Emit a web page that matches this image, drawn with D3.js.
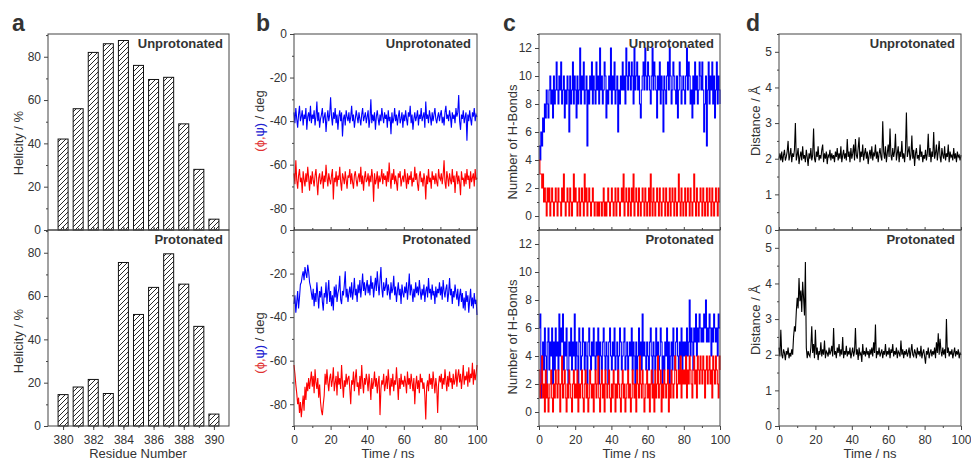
<!DOCTYPE html>
<html>
<head>
<meta charset="utf-8">
<script src="https://cdn.jsdelivr.net/npm/d3@7"></script>
<style>
  body { margin: 0; background: #fff; }
  text { font-family: "Liberation Sans", Arial, sans-serif; fill: #333; }
</style>
</head>
<body>
<svg id="chart" width="971" height="460"></svg>
<script>
// ---- data ----
const residues = [380, 381, 382, 383, 384, 385, 386, 387, 388, 389, 390];
const helixUnp = [42, 56, 82, 86, 87.5, 76, 69.5, 70.5, 49, 28, 5];
const helixPro = [14.5, 18, 21.5, 15, 75.5, 51.5, 64, 79.5, 65.5, 46, 5.5];

// time series: samples evenly spaced over 0..100 ns
const psiUnp = [
  -36,-41,-34,-39,-43,-37,-33,-40,-38,-35,-42,-37,-39,-34,-44,-38,-36,-40,-33,-41,
  -37,-39,-35,-42,-38,-31,-40,-36,-43,-39,-37,-34,-41,-38,-36,-45,-39,-35,-40,-37,
  -29,-38,-42,-36,-39,-34,-41,-37,-44,-38,-35,-40,-36,-47,-39,-37,-42,-35,-38,-40,
  -36,-41,-38,-33,-40,-37,-43,-39,-35,-38,-41,-36,-39,-42,-37,-34,-40,-38,-36,-41,
  -38,-35,-43,-39,-30,-41,-37,-40,-36,-44,-38,-35,-39,-42,-37,-40,-34,-38,-41,-36,
  -39,-37,-43,-35,-40,-38,-46,-36,-41,-39,-34,-40,-37,-42,-38,-35,-41,-39,-36,-43,
  -37,-40,-35,-39,-42,-36,-38,-33,-41,-37,-44,-39,-36,-40,-38,-35,-42,-37,-39,-34,
  -40,-38,-36,-43,-31,-39,-37,-41,-35,-38,-42,-36,-40,-37,-34,-39,-41,-38,-36,-40,
  -37,-35,-41,-38,-42,-36,-33,-39,-37,-40,-35,-38,-43,-36,-39,-37,-41,-34,-38,-36,
  -28,-40,-44,-37,-39,-35,-41,-38,-36,-49,-37,-40,-35,-39,-42,-36,-38,-34,-40,-37,-38];
const phiUnp = [
  -64,-69,-58,-67,-71,-65,-62,-68,-66,-73,-63,-67,-70,-64,-68,-61,-66,-72,-65,-69,
  -63,-67,-70,-65,-62,-68,-74,-66,-64,-69,-67,-63,-71,-65,-68,-60,-66,-70,-64,-67,
  -69,-65,-62,-76,-66,-68,-63,-70,-65,-67,-61,-68,-72,-64,-66,-69,-63,-67,-71,-65,
  -66,-62,-69,-64,-68,-71,-65,-63,-67,-70,-66,-64,-68,-61,-69,-65,-72,-66,-63,-68,
  -67,-64,-70,-65,-68,-62,-66,-77,-64,-69,-67,-63,-71,-65,-68,-66,-62,-69,-64,-67,
  -65,-70,-63,-68,-59,-66,-71,-64,-67,-62,-69,-65,-68,-72,-64,-66,-63,-70,-67,-65,
  -68,-62,-66,-71,-64,-69,-65,-67,-63,-70,-66,-68,-61,-67,-64,-69,-72,-65,-63,-68,
  -66,-70,-64,-67,-76,-65,-69,-62,-68,-66,-71,-63,-67,-65,-69,-64,-68,-70,-62,-66,
  -67,-64,-69,-65,-58,-68,-71,-63,-66,-70,-64,-67,-69,-62,-68,-65,-73,-66,-63,-69,
  -65,-68,-74,-63,-67,-66,-70,-64,-69,-62,-67,-65,-71,-63,-68,-66,-64,-70,-62,-67,-66];
const psiPro = [
  -34,-30,-38,-33,-28,-36,-31,-25,-24,-21,-19,-23,-17,-20,-22,-16,-19,-24,-26,-29,
  -32,-27,-35,-29,-33,-24,-30,-36,-28,-31,-26,-33,-37,-29,-31,-24,-34,-28,-23,-33,
  -28,-35,-30,-37,-26,-31,-25,-33,-29,-27,-21,-32,-34,-28,-30,-25,-19,-31,-27,-33,
  -29,-26,-31,-24,-32,-28,-22,-30,-27,-33,-25,-29,-23,-31,-26,-20,-28,-24,-30,-26,
  -23,-29,-25,-30,-21,-27,-24,-31,-26,-22,-28,-19,-25,-30,-23,-17,-27,-31,-24,-28,
  -26,-22,-30,-25,-28,-32,-24,-29,-27,-21,-30,-26,-33,-28,-24,-30,-27,-34,-25,-29,
  -31,-26,-29,-24,-32,-27,-20,-30,-25,-28,-33,-27,-31,-24,-29,-26,-30,-23,-28,-32,
  -27,-30,-25,-33,-28,-26,-31,-22,-29,-27,-32,-25,-30,-28,-34,-26,-31,-27,-29,-24,
  -30,-26,-32,-23,-28,-31,-27,-25,-33,-29,-22,-30,-27,-34,-28,-31,-25,-29,-32,-27,
  -35,-30,-27,-33,-29,-36,-31,-37,-28,-33,-30,-38,-32,-27,-35,-31,-36,-29,-34,-32,-39];
const phiPro = [
  -62,-66,-71,-75,-80,-77,-84,-79,-86,-81,-76,-83,-72,-78,-70,-74,-68,-73,-69,-65,
  -72,-67,-75,-64,-70,-73,-68,-77,-71,-79,-83,-85,-80,-76,-66,-71,-64,-70,-74,-68,
  -66,-72,-69,-63,-74,-70,-67,-76,-65,-71,-68,-73,-62,-70,-77,-69,-72,-66,-71,-68,
  -67,-73,-80,-69,-71,-65,-74,-68,-64,-72,-70,-76,-67,-73,-62,-70,-75,-68,-71,-66,
  -69,-74,-66,-71,-78,-68,-73,-70,-65,-72,-68,-75,-70,-67,-85,-73,-69,-71,-66,-74,
  -71,-67,-73,-64,-70,-76,-68,-72,-66,-74,-69,-71,-63,-70,-78,-68,-73,-66,-71,-69,
  -72,-67,-70,-75,-65,-71,-68,-73,-66,-70,-74,-68,-80,-71,-67,-73,-69,-75,-66,-70,
  -68,-73,-70,-76,-87,-72,-69,-74,-66,-71,-68,-73,-65,-70,-75,-68,-72,-84,-71,-67,
  -70,-66,-73,-68,-71,-64,-69,-74,-67,-72,-65,-70,-68,-73,-66,-71,-69,-64,-72,-67,
  -64,-70,-66,-73,-68,-62,-71,-67,-69,-65,-72,-63,-70,-66,-68,-61,-71,-64,-69,-66,-62];

// hydrogen bond counts
const hbBlueUnp = [
  5,4,6,5,7,6,8,7,9,8,7,9,10,8,9,7,10,8,9,11,
  9,8,10,9,11,8,9,10,7,9,8,10,9,6,10,8,9,11,8,10,
  9,7,10,8,9,12,8,10,9,11,8,9,10,5,9,8,10,9,11,8,
  10,9,8,11,9,10,8,12,9,10,8,9,11,10,7,9,8,10,9,12,
  8,10,9,11,8,9,10,6,9,8,10,9,11,9,10,8,12,10,9,11,
  10,9,11,10,8,12,9,10,11,9,10,8,7,9,10,11,9,12,10,9,
  11,10,9,8,10,12,9,11,10,9,7,10,9,11,8,10,9,6,10,9,
  8,10,11,9,12,10,8,9,11,10,9,8,10,7,9,11,10,8,9,10,
  9,8,10,12,9,11,10,8,9,7,10,8,11,9,10,8,9,11,10,9,
  11,9,6,8,10,5,9,11,8,10,9,11,8,10,7,9,11,8,10,9,8];
const hbRedUnp = [
  4,3,3,2,3,1,2,1,0,2,1,2,0,1,2,1,0,1,2,1,
  0,2,1,1,0,2,1,3,1,0,1,2,1,0,2,1,0,1,3,1,
  2,1,0,1,2,0,1,2,1,0,3,1,2,0,1,2,1,0,1,2,
  1,0,1,1,0,1,0,1,1,0,1,2,0,1,0,1,2,1,0,1,
  2,1,0,1,2,0,1,2,1,0,1,2,1,3,0,1,2,1,0,2,
  1,0,2,1,3,0,1,2,1,0,2,1,0,1,2,1,0,2,1,0,
  1,2,0,3,1,0,2,1,0,1,2,1,0,2,1,0,1,2,1,0,
  2,1,0,1,2,0,1,2,1,0,2,1,0,1,3,1,0,2,1,0,
  1,2,0,1,2,1,0,2,1,0,1,3,1,0,2,1,0,1,2,1,
  0,2,1,0,1,2,0,1,2,1,0,2,1,0,1,2,1,0,2,1,1];
const hbBluePro = [
  6,7,1,4,5,3,6,4,2,5,6,3,5,4,6,2,5,3,6,4,
  5,3,7,4,6,5,7,3,5,4,6,3,2,5,4,6,3,5,4,7,
  3,5,4,2,6,5,3,4,6,5,3,5,4,2,5,6,4,3,5,4,
  6,4,3,5,4,6,2,5,4,3,5,6,4,3,5,4,2,5,6,4,
  3,5,4,6,3,4,5,2,4,6,5,3,4,5,6,3,4,5,3,4,
  5,4,6,3,5,4,2,5,3,4,6,4,5,3,7,4,5,4,3,5,
  4,3,5,6,4,2,5,4,3,6,4,5,3,4,6,5,2,4,3,5,
  4,6,3,5,2,4,5,3,6,4,3,5,6,4,3,5,4,6,3,5,
  4,5,3,6,4,5,8,4,6,5,3,6,5,7,4,6,5,7,6,5,
  6,5,7,6,8,5,6,5,7,6,4,6,5,7,6,5,6,4,7,6,6];
const hbRedPro = [
  3,1,2,4,1,2,0,3,1,2,0,1,2,3,1,0,2,1,3,2,
  1,3,2,0,2,4,1,2,3,1,0,2,1,3,2,1,0,2,3,1,
  2,1,3,0,2,1,2,3,1,0,2,3,1,2,0,1,3,2,1,2,
  0,2,3,1,2,4,1,0,2,3,1,2,0,3,2,1,2,3,1,0,
  2,1,3,2,0,2,1,3,2,1,0,2,3,1,2,0,1,2,3,1,
  2,0,1,3,2,1,2,0,3,2,1,4,2,1,3,2,0,1,2,3,
  1,2,0,2,3,1,2,0,3,1,2,4,1,2,3,0,2,1,3,2,
  1,2,3,0,2,1,3,2,1,2,4,3,1,2,3,2,4,1,3,2,
  3,2,4,1,3,2,4,3,2,1,3,4,2,3,1,4,3,2,4,3,
  2,4,3,1,3,4,2,3,4,2,3,1,4,3,2,4,3,2,1,4,3];

// O-H distances
const distUnp = [
  2.0,2.15,1.95,2.2,1.9,2.1,2.25,1.95,2.05,2.2,2.5,1.95,2.1,2.3,1.9,2.15,2.05,2.25,3.0,1.95,
  2.1,2.3,1.85,2.05,2.2,1.95,2.35,2.0,2.1,1.9,2.25,2.05,1.8,2.15,2.0,2.3,1.95,2.1,2.85,2.0,
  1.9,2.2,2.05,2.35,1.95,2.1,2.0,2.25,2.4,1.9,2.15,2.0,2.2,1.85,2.1,2.05,2.25,1.95,2.15,2.0,
  2.1,1.9,2.2,2.05,2.3,1.95,2.15,2.0,2.35,1.9,2.1,2.25,2.0,2.15,1.95,2.55,2.05,2.2,1.9,2.3,
  2.0,2.15,2.4,1.95,2.55,2.1,2.0,2.3,2.6,1.9,2.2,2.05,2.4,1.95,2.15,2.3,2.0,2.2,1.85,2.1,
  2.25,2.0,2.35,1.95,2.15,2.1,2.4,2.0,2.2,1.9,2.15,2.3,2.05,1.95,3.05,2.2,2.0,2.35,1.9,2.15,
  2.4,2.05,2.85,2.1,1.95,2.3,2.05,2.2,2.7,1.95,2.15,2.35,1.9,2.2,2.05,2.5,2.0,2.15,1.9,2.25,
  3.3,2.05,2.2,2.35,1.95,2.1,2.65,2.0,2.25,1.8,2.15,2.3,2.0,2.1,1.95,2.4,2.05,2.2,1.9,2.1,
  2.0,2.25,1.95,2.15,2.7,2.05,2.3,1.9,2.2,2.05,2.75,2.0,2.15,2.4,1.95,2.2,2.5,2.05,1.9,2.3,
  2.1,2.0,2.35,1.95,2.15,2.05,2.4,1.9,2.2,2.05,2.1,1.95,2.3,2.0,2.15,1.9,2.2,2.05,2.1,1.95,2.1];
const distPro = [
  2.2,1.95,2.7,2.0,1.9,2.15,2.05,1.85,2.1,2.0,2.2,1.9,2.05,1.95,2.15,2.0,2.5,2.8,2.65,3.2,
  3.6,3.3,4.15,3.5,3.8,3.2,4.05,3.6,3.1,4.6,2.2,1.9,2.1,2.0,1.95,2.2,2.8,2.05,2.3,1.9,
  2.7,2.0,2.2,1.85,2.1,2.0,2.35,1.95,2.15,2.0,2.4,1.9,2.1,2.05,1.95,2.2,2.0,2.1,2.25,1.95,
  2.75,2.0,2.1,1.9,2.2,2.05,2.3,1.95,2.15,2.0,2.5,1.9,2.1,2.0,2.25,1.95,2.1,2.0,2.2,1.9,
  2.05,2.2,1.95,2.1,2.75,2.0,2.15,1.85,2.2,2.0,2.05,1.8,2.3,2.0,2.1,1.95,2.2,2.0,2.1,1.9,
  2.15,2.0,2.2,1.95,2.35,2.05,2.85,1.9,2.1,2.0,2.2,1.95,2.05,2.15,1.9,2.1,2.0,2.3,1.95,2.1,
  2.0,2.2,1.9,2.15,2.05,2.3,1.95,2.1,2.0,2.2,1.9,2.1,2.05,1.95,2.4,2.0,2.15,1.9,2.1,2.0,
  2.15,1.95,2.05,2.2,1.9,2.1,2.3,2.0,1.95,2.15,2.05,1.9,2.2,2.0,2.1,1.95,2.25,1.9,2.05,2.15,
  1.95,1.75,2.1,2.0,2.2,1.9,2.05,2.15,1.95,2.1,2.0,2.2,1.9,2.35,2.05,2.6,2.0,2.45,2.1,1.95,
  2.2,2.0,2.15,1.9,3.0,2.05,2.2,1.95,2.1,2.0,2.15,1.9,2.05,2.2,1.95,2.1,2.0,2.15,1.9,2.05,2.0];

const timeTicks = [0, 20, 40, 60, 80, 100];
const timeMinor = [10, 30, 50, 70, 90];

// ---- drawing ----
const svg = d3.select("#chart");
const BLUE = "#0000ff", RED = "#ff0000";

svg.append("defs").append("pattern")
  .attr("id", "hatch")
  .attr("patternUnits", "userSpaceOnUse")
  .attr("width", 5).attr("height", 5)
  .append("path")
  .attr("d", "M-1,1 l2,-2 M0,5 l5,-5 M4,6 l2,-2")
  .attr("stroke", "#111").attr("stroke-width", 0.9);

const TOP = [230, 34], BOT = [426, 230];

// one framed plot: returns scales and group
function plot(o) {
  const x = d3.scaleLinear().domain(o.xd).range([o.x0, o.x1]);
  const y = d3.scaleLinear().domain(o.yd).range(o.rows);
  const g = svg.append("g");
  const marks = g.append("g");

  // y axis
  g.append("g").attr("transform", `translate(${o.x0},0)`)
    .call(d3.axisLeft(y).tickValues(o.yMinor).tickSize(2).tickFormat(""));
  g.append("g").attr("transform", `translate(${o.x0},0)`)
    .call(d3.axisLeft(y).tickValues(o.yMajor).tickSize(4).tickPadding(3)
      .tickFormat(o.yFmt || (d => d)));

  // x axis (top plots: short inward ticks, no labels)
  const xAt = `translate(0,${o.rows[0]})`;
  if (o.bottom) {
    g.append("g").attr("transform", xAt)
      .call(d3.axisBottom(x).tickValues(o.xMinor).tickSize(2).tickFormat(""));
    g.append("g").attr("transform", xAt)
      .call(d3.axisBottom(x).tickValues(o.xMajor).tickSize(4).tickPadding(5));
  } else {
    g.append("g").attr("transform", xAt)
      .call(d3.axisBottom(x).tickValues(o.xMinor).tickSize(-2).tickFormat(""));
    g.append("g").attr("transform", xAt)
      .call(d3.axisBottom(x).tickValues(o.xMajor).tickSize(-3).tickFormat(""));
  }
  g.selectAll(".domain").remove();
  g.selectAll(".tick line").attr("stroke", "#444");
  g.selectAll(".tick text").attr("font-size", 12).attr("fill", "#333")
    .style("font-family", '"Liberation Sans", Arial, sans-serif');

  // frame
  g.append("rect")
    .attr("x", o.x0).attr("y", o.rows[1])
    .attr("width", o.x1 - o.x0).attr("height", o.rows[0] - o.rows[1])
    .attr("fill", "none").attr("stroke", "#444").attr("stroke-width", 1);

  // state label
  g.append("text")
    .attr("x", o.x1 - 6).attr("y", o.rows[1] + 14)
    .attr("text-anchor", "end")
    .attr("font-size", 13).attr("font-weight", "bold").attr("fill", "#111")
    .text(o.state);

  return { x, y, marks };
}

function yTitle(x, y, build) {
  const t = svg.append("text")
    .attr("transform", `translate(${x},${y}) rotate(-90)`)
    .attr("text-anchor", "middle")
    .attr("dy", "0.35em")
    .attr("font-size", 13);
  build(t);
}

function letter(x, s) {
  svg.append("text").attr("x", x).attr("y", 31)
    .attr("font-size", 23).attr("font-weight", "bold").attr("fill", "#111")
    .text(s);
}

function xTitle(x, s) {
  svg.append("text").attr("x", x).attr("y", 458)
    .attr("text-anchor", "middle").attr("font-size", 13).text(s);
}

// trace drawn against time, samples spread evenly over 0..100 ns
function trace(p, vals, color, step) {
  const n = vals.length - 1;
  const line = d3.line().x((d, i) => p.x(i * 100 / n)).y(d => p.y(d));
  if (step) line.curve(d3.curveStepAfter);
  p.marks.append("path").datum(vals).attr("d", line)
    .attr("fill", "none").attr("stroke", color).attr("stroke-width", 1.1);
}

// ---- panel a ----
[["Unprotonated", TOP, helixUnp, false, 143], ["Protonated", BOT, helixPro, true, 341]].forEach(([state, rows, vals, bottom, ty]) => {
  const p = plot({
    x0: 48, x1: 229, rows, xd: [379, 391], yd: [0, 90.5],
    yMajor: [0, 20, 40, 60, 80], yMinor: [10, 30, 50, 70, 90],
    xMajor: [380, 382, 384, 386, 388, 390], xMinor: residues, bottom, state
  });
  p.marks.selectAll("rect")
    .data(vals)
    .join("rect")
    .attr("x", (d, i) => p.x(residues[i]) - 5)
    .attr("width", 10)
    .attr("y", d => p.y(d))
    .attr("height", d => p.y(0) - p.y(d))
    .attr("fill", "url(#hatch)")
    .attr("stroke", "#111").attr("stroke-width", 1);
  yTitle(18, ty, t => t.text("Helicity / %"));
});
letter(12, "a");
xTitle(138, "Residue Number");

// ---- panel b ----
[["Unprotonated", TOP, psiUnp, phiUnp, false, 121], ["Protonated", BOT, psiPro, phiPro, true, 343]].forEach(([state, rows, psi, phi, bottom, ty]) => {
  const p = plot({
    x0: 294, x1: 477, rows, xd: [0, 100], yd: [-90, 0],
    yMajor: [-80, -60, -40, -20, 0], yMinor: [-90, -70, -50, -30, -10],
    xMajor: timeTicks, xMinor: timeMinor, bottom, state
  });
  trace(p, psi, BLUE);
  trace(p, phi, RED);
  yTitle(259, ty, t => {
    t.append("tspan").style("fill", "#e03030").text("(\u03d5,");
    t.append("tspan").style("fill", "#2020d0").text("\u03c8)");
    t.append("tspan").text(" / deg");
  });
});
letter(256, "b");
xTitle(388, "Time / ns");

// ---- panel c ----
[["Unprotonated", TOP, hbBlueUnp, hbRedUnp, false, 142], ["Protonated", BOT, hbBluePro, hbRedPro, true, 337]].forEach(([state, rows, blue, red, bottom, ty]) => {
  const p = plot({
    x0: 539, x1: 720, rows, xd: [0, 100], yd: [-1, 13],
    yMajor: [0, 2, 4, 6, 8, 10, 12], yMinor: [-1, 1, 3, 5, 7, 9, 11, 13],
    xMajor: timeTicks, xMinor: timeMinor, bottom, state
  });
  trace(p, blue, BLUE, true);
  trace(p, red, RED, true);
  yTitle(512, ty, t => t.text("Number of H-Bonds"));
});
letter(503, "c");
xTitle(629, "Time / ns");

// ---- panel d ----
[["Unprotonated", TOP, distUnp, false, 121], ["Protonated", BOT, distPro, true, 320]].forEach(([state, rows, vals, bottom, ty]) => {
  const p = plot({
    x0: 779, x1: 961, rows, xd: [0, 100], yd: [0, 5.5],
    yMajor: [0, 1, 2, 3, 4, 5], yMinor: [0.5, 1.5, 2.5, 3.5, 4.5, 5.5],
    xMajor: timeTicks, xMinor: timeMinor, bottom, state, yFmt: d3.format("d")
  });
  trace(p, vals, "#000");
  yTitle(755, ty, t => t.text("Distance / \u00c5"));
});
letter(746, "d");
xTitle(870, "Time / ns");
</script>
</body>
</html>
